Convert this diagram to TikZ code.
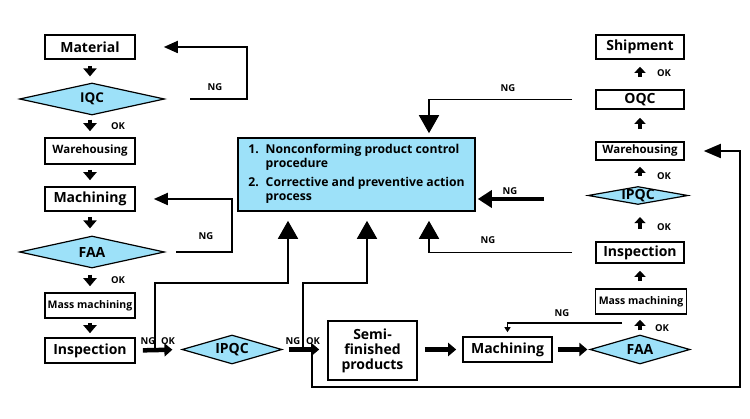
\documentclass[tikz,border=0pt]{standalone}
\usepackage{fontspec}
\setmainfont{Open Sans}
\usepackage{tikz}
\usetikzlibrary{shapes.geometric,arrows.meta}
\usetikzlibrary{positioning,calc}
\definecolor{qblue}{RGB}{157,225,249}
\tikzset{>=stealth}
\tikzstyle{stage} = [draw, line width=1.6pt, inner sep=0pt,
font=\bfseries\fontsize{14}{15}\selectfont]
\tikzstyle{check} = [diamond, aspect=1, draw, fill=qblue, line width=1.2pt,
inner xsep=-14pt, inner ysep=-5pt, font=\bfseries\fontsize{14}{15}\selectfont]
\tikzstyle{whfont} = [font=\bfseries\fontsize{11.5}{13}\selectfont]
\tikzstyle{smallfont} = [font=\bfseries\fontsize{10.5}{12}\selectfont]
\tikzstyle{flow} = [draw, line width=4.5pt, -{Triangle[width=13pt,length=8pt]}]
\tikzstyle{upflow} = [draw, line width=4.5pt, -{Triangle[width=11pt,length=6pt]}]
\tikzstyle{ngline} = [draw, line width=1.8pt]
\tikzstyle{bigtip} = [-{Triangle[width=20pt,length=18pt]}]
\tikzstyle{midtip} = [-{Triangle[width=12pt,length=14pt]}]
\tikzstyle{tag} = [inner sep=0pt, font=\bfseries\fontsize{9.5}{10}\selectfont]

\begin{document}
\begin{tikzpicture}[x=1pt, y=-1pt]
      \useasboundingbox (0,0) rectangle (750,419);
      %% incoming side
      \node [stage, minimum width=90pt, minimum height=24pt] (mat) at (90,47) {Material};
      \node [check, minimum width=145pt, minimum height=32pt, font=\bfseries\fontsize{13.5}{15}\selectfont] (iqc) at (92,99) {IQC};
      \node [stage, whfont, minimum width=90pt, minimum height=26pt] (wh1) at (90,151) {Warehousing};
      \node [stage, minimum width=90pt, minimum height=24pt] (mach1) at (90,199) {Machining};
      \node [check, minimum width=145pt, minimum height=32pt] (faa1) at (92,252) {FAA};
      \node [stage, smallfont, minimum width=90pt, minimum height=25pt] (mass1) at (90,305.5) {Mass machining};
      \node [stage, minimum width=90pt, minimum height=25pt] (insp1) at (90,350.5) {Inspection};
      %% bottom row
      \node [check, minimum width=100pt, minimum height=29pt] (ipqc1) at (232,349.5) {IPQC};
      \node [stage, align=center, minimum width=89pt, minimum height=59pt] (semi) at (372.5,350.5) {Semi-\\finished\\products};
      \node [stage, minimum width=89pt, minimum height=25pt] (mach2) at (507.5,349.5) {Machining};
      \node [check, minimum width=100pt, minimum height=29pt] (faa2) at (640,349.5) {FAA};
      %% outgoing side
      \node [stage, smallfont, minimum width=91pt, minimum height=25pt] (mass2) at (641,301.5) {Mass machining};
      \node [stage, minimum width=88pt, minimum height=21pt] (insp2) at (640,252.5) {Inspection};
      \node [check, minimum width=100pt, minimum height=18pt] (ipqc2) at (638,195.5) {IPQC};
      \node [stage, whfont, minimum width=88pt, minimum height=18pt] (wh2) at (640,151) {Warehousing};
      \node [stage, minimum width=88pt, minimum height=19pt] (oqc) at (640,99.5) {OQC};
      \node [stage, minimum width=88pt, minimum height=24pt] (ship) at (640,47) {Shipment};
      %% procedures
      \node [draw, line width=1.6pt, fill=qblue, minimum width=237pt, minimum height=73pt,
        font=\bfseries\fontsize{12.2}{14}\selectfont] (proc) at (356.5,174.5)
        {\begin{tabular}{@{}l@{\hspace{7pt}}l@{}}
          1. & Nonconforming product control\\
             & procedure\\[5pt]
          2. & Corrective and preventive action\\
             & process
        \end{tabular}};
      %% Flows
      \draw [flow, shorten <=6pt, shorten >=6pt] (mat.south) -- (mat.south |- iqc.north);
      \draw [flow, shorten <=4pt, shorten >=6pt] (wh1.north |- iqc.south) -- (wh1.north);
      \draw [flow, shorten <=5pt, shorten >=6pt] (wh1.south) -- (mach1.north);
      \draw [flow, shorten <=5pt, shorten >=7pt] (mach1.south) -- (mach1.south |- faa1.north);
      \draw [flow, shorten <=6pt, shorten >=6pt] (mass1.north |- faa1.south) -- (mass1.north);
      \draw [flow, shorten <=4pt, shorten >=4pt] (mass1.south) -- (insp1.north);
      \draw [flow, shorten <=7pt, shorten >=9pt] (insp1.east) -- (ipqc1.west);
      \draw [flow, shorten <=6pt, shorten >=8pt] (ipqc1.east) -- (ipqc1.east -| semi.west);
      \draw [flow, shorten <=7pt, shorten >=6pt] (semi.east |- mach2.west) -- (mach2.west);
      \draw [flow, shorten <=5pt, shorten >=2pt] (mach2.east) -- (faa2.west);
      \draw [upflow, shorten <=4pt, shorten >=5pt] (faa2.north) -- (faa2.north |- mass2.south);
      \draw [upflow, shorten <=7pt, shorten >=7pt] (insp2.south |- mass2.north) -- (insp2.south);
      \draw [upflow, shorten <=12pt, shorten >=12pt] (insp2.north) -- (insp2.north |- ipqc2.south);
      \draw [upflow, shorten <=10pt, shorten >=6pt] (wh2.south |- ipqc2.north) -- (wh2.south);
      \draw [upflow, shorten <=12pt, shorten >=8pt] (wh2.north) -- (oqc.south);
      \draw [upflow, shorten <=12pt, shorten >=7pt] (oqc.north) -- (ship.south);
      %% NG loops
      \draw [ngline, midtip] ([xshift=25pt]iqc.east) -- ++(57,0) |- ([xshift=28pt]mat.east);
      \draw [ngline, midtip] ([xshift=11pt]faa1.east) -- ++(56,0) |- ([xshift=18pt]mach1.east);
      \draw [ngline, bigtip] ([xshift=-23pt]oqc.west) -| ([xshift=72.5pt,yshift=4pt]proc.north);
      \coordinate (ngin) at (544,199);
      \draw [draw, line width=3.5pt, -{Triangle[width=17pt,length=14pt]}, shorten >=2pt] (ngin) -- (ngin -| proc.east);
      \draw [ngline, bigtip] ([xshift=-23pt]insp2.west) -| ([xshift=72.5pt,yshift=-9pt]proc.south);
      \coordinate (br1) at (155,350);
      \coordinate (br2) at (303,350);
      \coordinate (br3) at (312,350);
      \coordinate (corner) at (740,387);
      \draw [ngline, bigtip] (br1) -- ++(0,-67) -| ([xshift=-68.5pt,yshift=-9pt]proc.south);
      \draw [ngline, bigtip] (br2) -- ++(0,-67) -| ([xshift=10.5pt,yshift=-9pt]proc.south);
      \draw [ngline, -{Triangle[width=14pt,length=17pt]}] (br3) |- (corner) |- ([xshift=19pt]wh2.east);
      \coordinate (ngfa) at (622,323);
      \draw [line width=1.2pt, -{Triangle[width=6pt,length=5pt]}] (ngfa) -| ([yshift=4pt]mach2.north);
      %% Labels
      \node [tag] (ngiqc) at (215,87) {NG};
      \node [tag] (ngfaa) at (206,236) {NG};
      \node [tag] (ngoqc) at (508,88) {NG};
      \node [tag] (ngipqc) at (510,191) {NG};
      \node [tag] (nginsp) at (488,240) {NG};
      \node [tag] (ngfab) at (562,313) {NG};
      \node [tag] (ngb1) at (148,341) {NG};
      \node [tag] (okb1) at (168,341) {OK};
      \node [tag] (ngb2) at (293,341) {NG};
      \node [tag] (okb2) at (313,341) {OK};
      \node [tag] (okiqc) at (118,126) {OK};
      \node [tag] (okfaa) at (118,280) {OK};
      \node [tag] (okoqc) at (664,73) {OK};
      \node [tag] (okipqc) at (664,176) {OK};
      \node [tag] (okinsp) at (664,227) {OK};
      \node [tag] (okfab) at (662,328) {OK};
\end{tikzpicture}
\end{document}
